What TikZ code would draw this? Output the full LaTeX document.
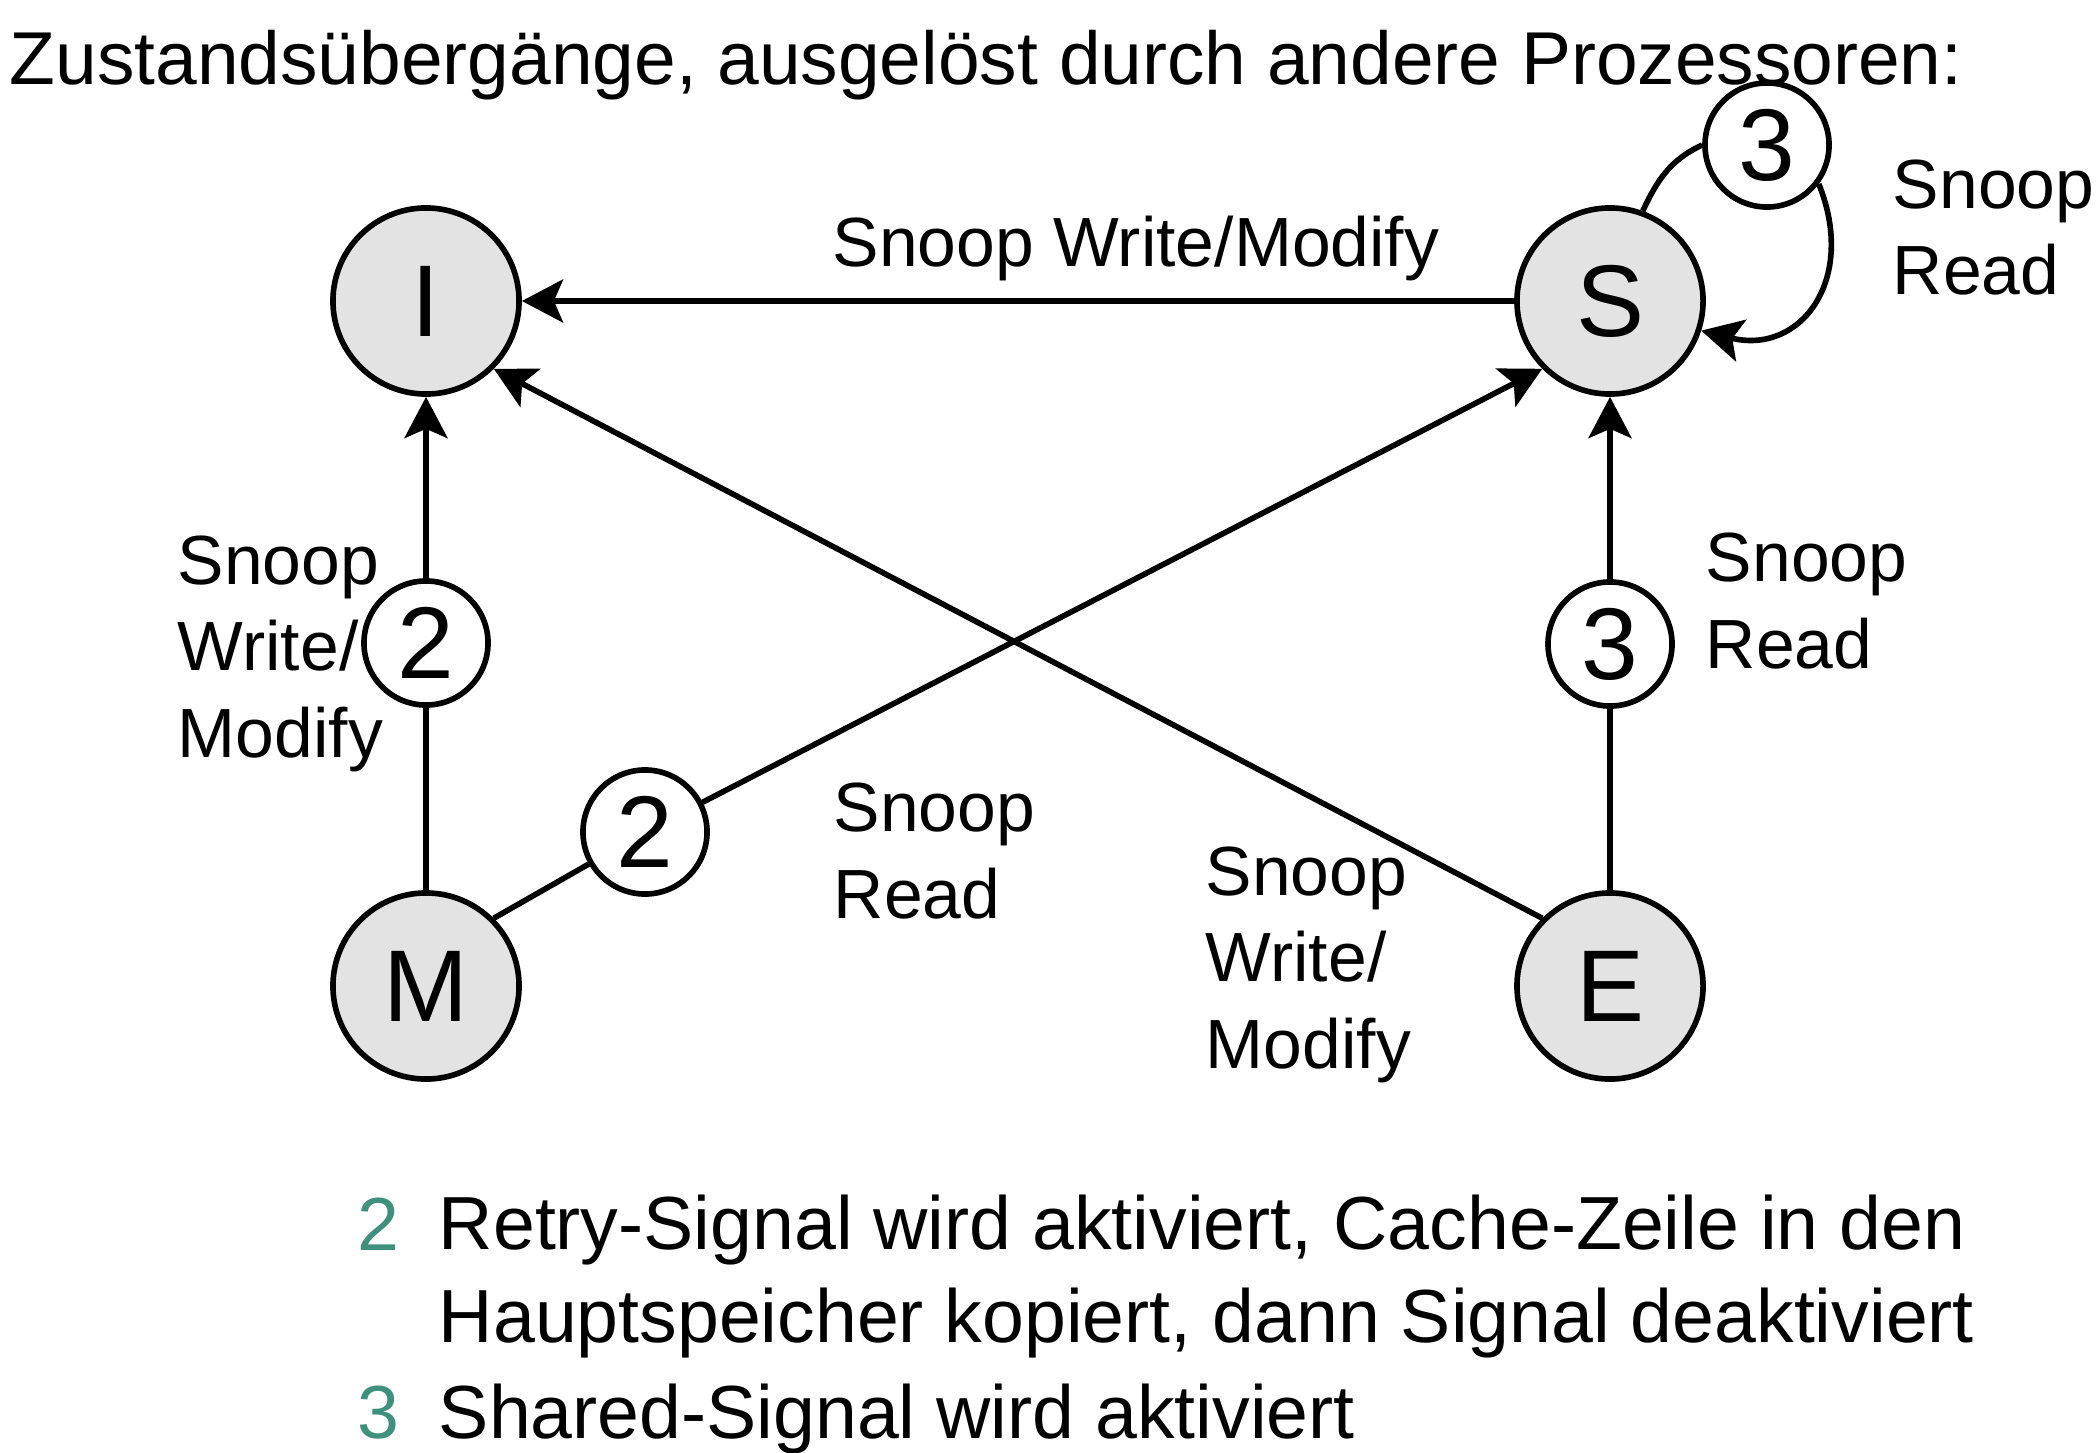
\documentclass[tikz,border=0pt]{standalone}
\usepackage{fontspec}
\setmainfont{Liberation Sans}
\usepackage{xcolor}
\usetikzlibrary{arrows.meta}
\definecolor{statefill}{HTML}{E3E3E3}
\definecolor{notegreen}{HTML}{40907E}

\begin{document}
\begin{tikzpicture}[x=0.01cm, y=-0.01cm, line width=1.6pt,
    state/.style={draw, circle, fill=statefill, minimum size=1.86cm, inner sep=0pt, font=\fontsize{29}{34}\selectfont},
    marker/.style={draw, circle, fill=white, minimum size=1.24cm, inner sep=0pt, font=\fontsize{29}{34}\selectfont},
    lbl/.style={anchor=base west, inner sep=0pt, align=left, font=\fontsize{19.8}{24.5}\selectfont},
    note/.style={anchor=base west, inner sep=0pt, align=left, font=\fontsize{21.4}{26.2}\selectfont},
    tip/.style={-{Stealth[length=11.7pt, width=12.2pt, inset=2.6pt]}}]
  \useasboundingbox (0,0) rectangle (2098,1452);

  \node[anchor=base west, inner sep=0pt, font=\fontsize{21.3}{25}\selectfont] (title) at (7,85) {Zustandsübergänge, ausgelöst durch andere Prozessoren:};

  % Zustaende
  \node[state] (I) at (426,301) {I};
  \node[state] (S) at (1610,301) {S};
  \node[state] (M) at (426,986) {M};
  \node[state] (E) at (1610,986) {E};

  % Signale auf den Kanten
  \node[marker] (m2) at (426,643) {2};
  \node[marker] (d2) at (645,832) {2};
  \node[marker] (e3) at (1610,644) {3};
  \node[marker] (s3) at (1767,145) {3};

  \draw[tip] (S) -- (I);
  \draw (M) -- (m2);
  \draw[tip] (m2) -- (I);
  \draw (M.45) -- (d2);
  \draw[tip] (d2) -- (S.225);
  \draw[tip] (E.135) -- (I.-45);
  \draw (E) -- (e3);
  \draw[tip] (e3) -- (S);
  \draw (S.70) to[out=65, in=205] (s3.west);
  \draw[tip] (s3.-37) to[out=-68, in=-14, looseness=1.4] (S.-18);

  % Beschriftungen (base = letzte Zeile)
  \node[lbl] (lSI) at (830,267) {Snoop Write/Modify};
  \node[lbl] (lSS) at (1890,295) {Snoop\\Read};
  \node[lbl] (lMI) at (175,757) {Snoop\\Write/\\Modify};
  \node[lbl] (lMS) at (831,918) {Snoop\\Read};
  \node[lbl] (lES) at (1703,668) {Snoop\\Read};
  \node[lbl] (lEI) at (1203,1068) {Snoop\\Write/\\Modify};

  % Legende
  \node[note, text=notegreen] (n2) at (355,1250) {2};
  \node[note] (t2) at (436,1342) {Retry-Signal wird aktiviert, Cache-Zeile in den\\Hauptspeicher kopiert, dann Signal deaktiviert};
  \node[note, text=notegreen] (n3) at (355,1438) {3};
  \node[note] (t3) at (436,1438) {Shared-Signal wird aktiviert};
\end{tikzpicture}
\end{document}
